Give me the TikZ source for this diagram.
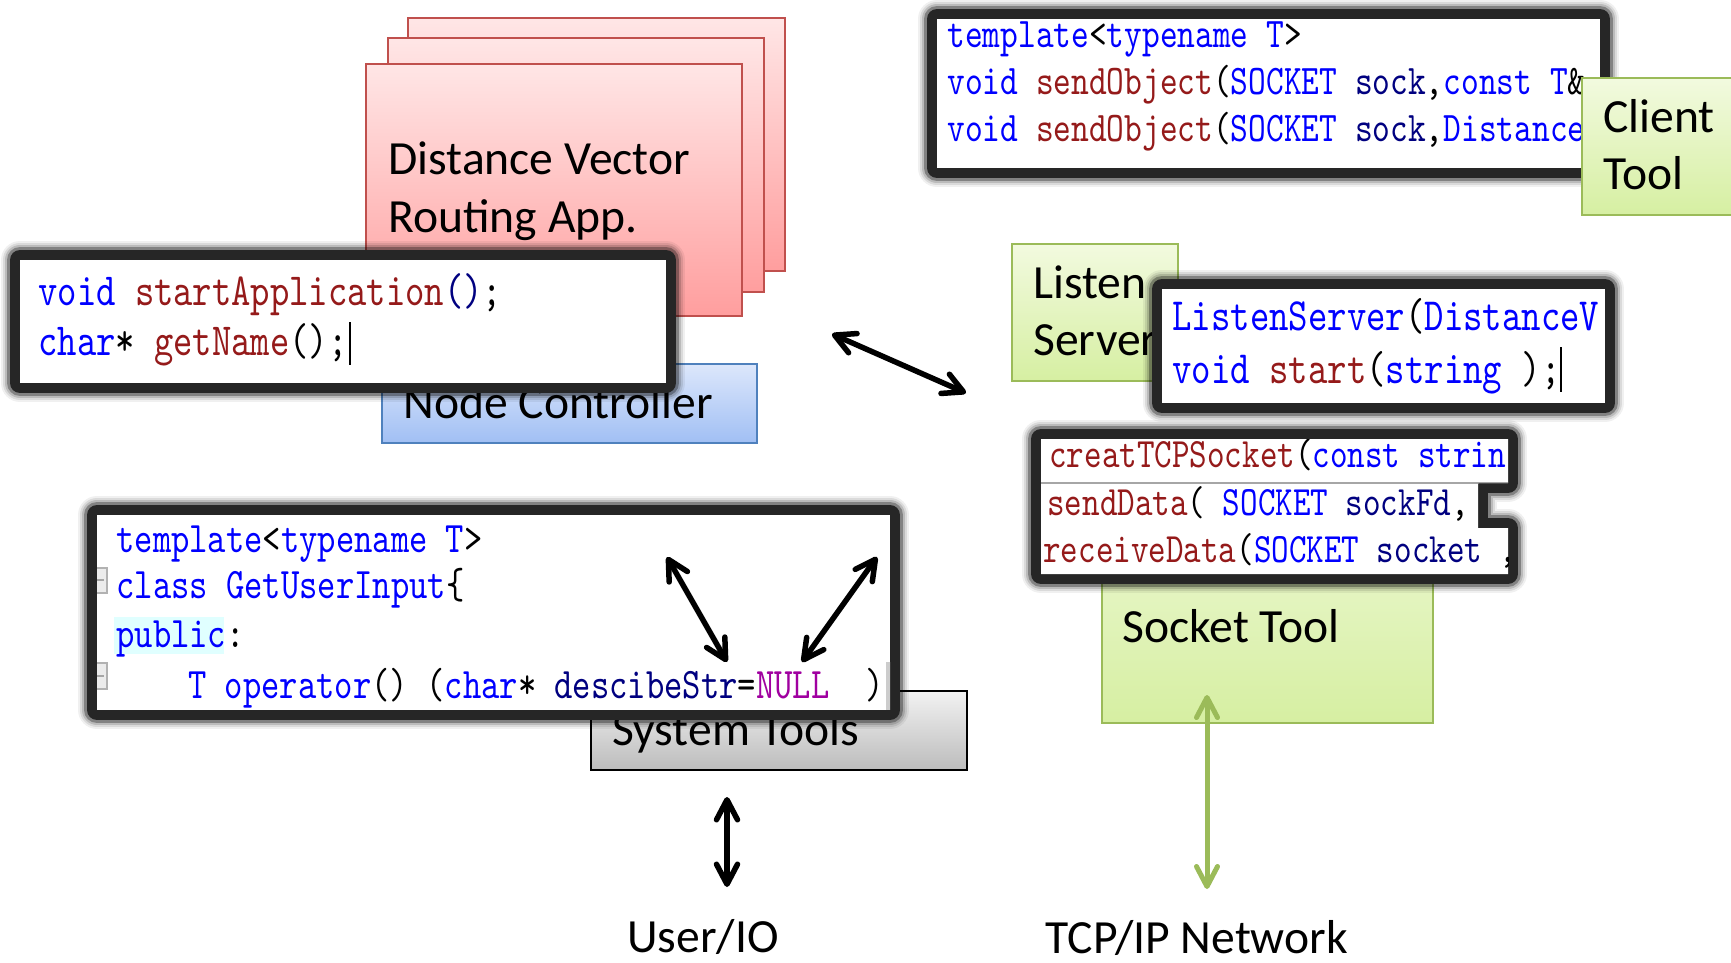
\documentclass[tikz,border=0pt]{standalone}
\usepackage{fontspec}
\setmainfont{Carlito}
\newfontfamily\codefont[FakeStretch=0.8]{lmmono10-regular.otf}
\usetikzlibrary{arrows.meta,fit}

% syntax colours of the code panels
\definecolor{kwblue}{HTML}{0000FF}
\definecolor{fnred}{HTML}{951A1A}
\definecolor{argnavy}{HTML}{000080}
\definecolor{nullpurple}{HTML}{A000A0}
\definecolor{hilite}{HTML}{E0FFFF}
\definecolor{framegray}{HTML}{262626}
% box colours
\definecolor{redline}{HTML}{C0504D}
\definecolor{redtop}{HTML}{FFE6E6}
\definecolor{redbottom}{HTML}{FF9E9E}
\definecolor{blueline}{HTML}{4F81BD}
\definecolor{bluetop}{HTML}{DCE7FB}
\definecolor{bluebottom}{HTML}{A1BFF4}
\definecolor{greenline}{HTML}{9BBB59}
\definecolor{greentop}{HTML}{F2FADF}
\definecolor{greenbottom}{HTML}{D6EFA2}
\definecolor{graytop}{HTML}{F2F2F2}
\definecolor{graybottom}{HTML}{BCBCBC}

\newcommand\ckw[1]{\textcolor{kwblue}{#1}}
\newcommand\cfn[1]{\textcolor{fnred}{#1}}
\newcommand\carg[1]{\textcolor{argnavy}{#1}}
\newcommand\cnull[1]{\textcolor{nullpurple}{#1}}

% dark, soft-edged frame around a white code panel
\newcommand\codeframe[1]{%
  \draw[line width=19pt, line join=round, draw opacity=0.06] #1;
  \draw[line width=17pt, line join=round, draw opacity=0.09] #1;
  \draw[line width=15pt, line join=round, draw opacity=0.14] #1;
  \draw[line width=13pt, line join=round, draw opacity=0.3] #1;
  \draw[line width=10pt, line join=round, draw=framegray] #1;
  \fill[white] #1;
}

\begin{document}
\begin{tikzpicture}[x=0.5pt, y=-0.5pt,
  plainbox/.style={inner sep=0pt, outer sep=0pt, line width=1.25pt},
  appbox/.style={plainbox, draw=redline, top color=redtop, bottom color=redbottom},
  ctrlbox/.style={plainbox, draw=blueline, top color=bluetop, bottom color=bluebottom},
  toolbox/.style={plainbox, draw=greenline, top color=greentop, bottom color=greenbottom},
  sysbox/.style={plainbox, draw=black, top color=graytop, bottom color=graybottom},
  boxtext/.style={anchor=base west, inner sep=0pt, font=\fontsize{23.8}{29}\selectfont},
  codeline/.style={anchor=base west, inner sep=0pt},
  codeA/.style={codeline, font=\codefont\fontsize{23}{25}\selectfont\frenchspacing},
  codeB/.style={codeline, font=\codefont\fontsize{21.1}{25}\selectfont\frenchspacing},
  codeC/.style={codeline, font=\codefont\fontsize{23.1}{25}\selectfont\frenchspacing},
  codeD/.style={codeline, font=\codefont\fontsize{20.9}{25}\selectfont\frenchspacing},
  codeE/.style={codeline, font=\codefont\fontsize{21.8}{25}\selectfont\frenchspacing},
  tipblack/.tip={Straight Barb[length=10pt, width=10.5pt, round]},
  biarrow/.style={line width=2.75pt, tipblack-tipblack},
  netarrow/.style={line width=2.5pt, draw=greenline, tipblack-tipblack},
  cursor/.style={line width=1pt},
]
\useasboundingbox (0,0) rectangle (1731,963);
\fill[white] (0,0) rectangle (1731,963);

% ---- routing application stack ----
\node[appbox, fit={(408,18) (785,271)}] (app3) {};
\node[appbox, fit={(388,38) (764,292)}] (app2) {};
\node[appbox, fit={(366,64) (742,316)}] (app1) {};
\node[boxtext] (appA) at (388,175) {Distance Vector};
\node[boxtext] (appB) at (388,233) {Routing App.};

% ---- node controller ----
\node[ctrlbox, fit={(382,364) (757,443)}] (ctrl) {};
\node[boxtext] (ctrlT) at (403,418) {Node Controller};

% ---- application interface ----
\codeframe{(20,260) rectangle (666,383)}
\begin{scope}
  \clip (20,260) rectangle (666,383);
  \node[codeA] (ca1) at (38,305) {\ckw{void} \cfn{startApplication}\carg{()};};
  \node[codeA] (ca2) at (38,355) {\ckw{char}* \cfn{getName}();};
  \draw[cursor] (350,322) -- (350,365);
\end{scope}

% ---- client tool interface ----
\codeframe{(937,19) rectangle (1600,168)}
\begin{scope}
  \clip (937,19) rectangle (1600,168);
  \node[codeB] (cb1) at (947,48) {\ckw{template}<\ckw{typename T}>};
  \node[codeB] (cb2) at (947,95) {\ckw{void} \cfn{sendObject}(\ckw{SOCKET} \carg{sock},\ckw{const T}\&};
  \node[codeB] (cb3) at (947,142) {\ckw{void} \cfn{sendObject}(\ckw{SOCKET} \carg{sock},\ckw{Distance}};
\end{scope}
\node[toolbox, fit={(1582,78) (1760,215)}] (client) {};
\node[boxtext] (clientA) at (1603,133) {Client};
\node[boxtext] (clientB) at (1603,190) {Tool};

% ---- listen server ----
\node[toolbox, fit={(1012,244) (1178,381)}] (listen) {};
\node[boxtext] (listenA) at (1033,298) {Listen};
\node[boxtext] (listenB) at (1033,355) {Server};
\codeframe{(1162,289) rectangle (1605,403)}
\begin{scope}
  \clip (1162,289) rectangle (1605,403);
  \node[codeC] (cc1) at (1172,330) {\ckw{ListenServer}(\ckw{DistanceV}};
  \node[codeC] (cc2) at (1172,383) {\ckw{void} \cfn{start}(\ckw{string} );};
  \draw[cursor] (1561,347) -- (1561,392);
\end{scope}

% ---- socket tool ----
\node[toolbox, fit={(1102,450) (1433,723)}] (socket) {};
\node[boxtext] (socketT) at (1122,642) {Socket Tool};
\codeframe{(1041,439) -- (1508,439) -- (1508,483) -- (1478,483) -- (1478,528) -- (1508,528) -- (1508,574) -- (1041,574) -- cycle}
\begin{scope}
  \clip (1041,439) -- (1508,439) -- (1508,483) -- (1478,483) -- (1478,528) -- (1508,528) -- (1508,574) -- (1041,574) -- cycle;
  \draw[gray!70, line width=0.75pt] (1041,483) -- (1508,483);
  \node[codeD] (cd1) at (1049,467) {\cfn{creatTCPSocket}(\ckw{const strin}};
  \node[codeD] (cd2) at (1047,515) {\cfn{sendData}( \ckw{SOCKET} \carg{sockFd},};
  \node[codeD] (cd3) at (1043,562) {\cfn{receiveData}(\ckw{SOCKET} \carg{socket} ,};
\end{scope}

% ---- system tools ----
\node[sysbox, fit={(591,691) (967,770)}] (sys) {};
\node[boxtext] (sysT) at (612,745) {System Tools};
\codeframe{(97,515) rectangle (890,710)}
\begin{scope}
  \clip (97,515) rectangle (890,710);
  \fill[hilite] (114,617) rectangle (224,654);
  \filldraw[fill=gray!15, draw=gray!60, line width=0.75pt] (92,568) rectangle (107,593);
  \draw[gray!70, line width=0.75pt] (97,580) -- (104,580);
  \filldraw[fill=gray!15, draw=gray!60, line width=0.75pt] (92,663) rectangle (107,689);
  \draw[gray!70, line width=0.75pt] (97,676) -- (104,676);
  \fill[gray!40] (886,662) rectangle (891,710);
  \node[codeE] (ce1) at (116,552) {\ckw{template}<\ckw{typename T}>};
  \node[codeE] (ce2) at (116,598) {\ckw{class GetUserInput}\{};
  \node[codeE] (ce3) at (116,647) {\ckw{public}:};
  \node[codeE] (ce4) at (188,698) {\ckw{T operator}() (\ckw{char}* \carg{descibeStr}=\cnull{NULL}\ \ )};
\end{scope}

% ---- outside endpoints ----
\node[boxtext] (userio) at (627,952) {User/IO};
\node[boxtext] (network) at (1045,953) {TCP/IP Network};

% ---- connectors ----
\coordinate (midA) at (832,334);
\coordinate (midB) at (966,393);
\draw[biarrow] (midA) -- (midB);

\coordinate (tplA) at (667,557);
\coordinate (tplB) at (727,662);
\draw[biarrow] (tplA) -- (tplB);
\coordinate (dfltA) at (877,557);
\coordinate (dfltB) at (802,662);
\draw[biarrow] (dfltA) -- (dfltB);

\coordinate (ioA) at (727,797);
\coordinate (ioB) at (727,887);
\draw[biarrow] (ioA) -- (ioB);

\coordinate (netA) at (1207,695);
\coordinate (netB) at (1207,889);
\draw[netarrow] (netA) -- (netB);
\end{tikzpicture}
\end{document}
